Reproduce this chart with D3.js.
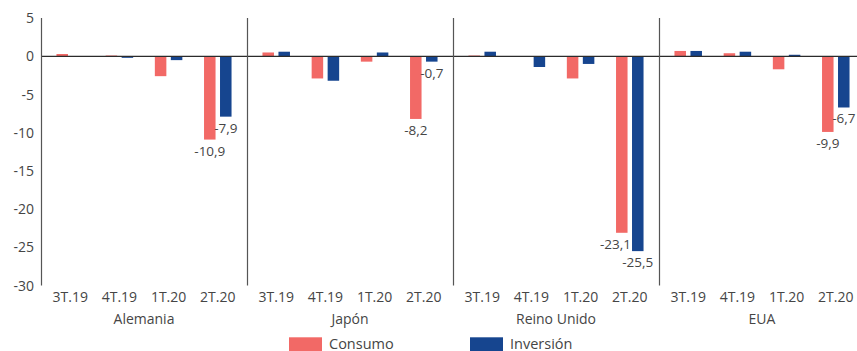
<!DOCTYPE html>
<html>
<head>
<meta charset="utf-8">
<script src="https://cdn.jsdelivr.net/npm/d3@7"></script>
<style>
  html, body { margin: 0; padding: 0; background: #fff; }
  svg { display: block; font-family: "Open Sans", "Noto Sans", sans-serif; }
</style>
</head>
<body>
<svg id="chart" width="857" height="351"></svg>
<script>
// Variación trimestral (%) del consumo y la inversión por país
const countries = ["Alemania", "Japón", "Reino Unido", "EUA"];
const quarters = ["3T.19", "4T.19", "1T.20", "2T.20"];
const seriesNames = ["Consumo", "Inversión"];
const consumo = [
  [0.3, 0.1, -2.6, -10.9],   // Alemania
  [0.5, -2.9, -0.7, -8.2],   // Japón
  [0.1, 0.0, -2.9, -23.1],   // Reino Unido
  [0.7, 0.4, -1.7, -9.9]     // EUA
];
const inversion = [
  [0.0, -0.2, -0.5, -7.9],
  [0.6, -3.2, 0.5, -0.7],
  [0.6, -1.4, -1.0, -25.5],
  [0.7, 0.6, 0.2, -6.7]
];
const labelledQuarter = "2T.20";
const yTicks = [5, 0, -5, -10, -15, -20, -25, -30];
const colors = { "Consumo": "#f26966", "Inversión": "#16458f" };

const svg = d3.select("#chart");
const textColor = "#454545";

const panelW = 206;
const x0 = d3.scaleBand().domain(countries).range([41, 41 + panelW * countries.length]).padding(0);
const x1 = d3.scaleBand().domain(quarters).range([0, panelW]).paddingInner(0).paddingOuter(0.094);
const x2 = d3.scaleBand().domain(seriesNames).range([0, x1.bandwidth()]).paddingInner(0.28).paddingOuter(0.678);
const y = d3.scaleLinear().domain([-30, 5]).range([285.5, 18.1]);

// y axis labels
svg.append("g").selectAll("text").data(yTicks).join("text")
  .attr("x", 34).attr("y", d => y(d)).attr("dy", "0.36em")
  .attr("text-anchor", "end").attr("font-size", 14).attr("fill", textColor)
  .text(d => String(d));

// flatten data
const rows = [];
countries.forEach((c, ci) => {
  quarters.forEach((q, qi) => {
    rows.push({ country: c, quarter: q, series: "Consumo", value: consumo[ci][qi] });
    rows.push({ country: c, quarter: q, series: "Inversión", value: inversion[ci][qi] });
  });
});
const barX = d => x0(d.country) + x1(d.quarter) + x2(d.series);

// bars
svg.append("g").selectAll("rect").data(rows).join("rect")
  .attr("x", barX)
  .attr("y", d => y(Math.max(0, d.value)))
  .attr("width", x2.bandwidth())
  .attr("height", d => Math.abs(y(d.value) - y(0)))
  .attr("fill", d => colors[d.series]);

// zero line
svg.append("line")
  .attr("x1", x0.range()[0]).attr("x2", x0.range()[1])
  .attr("y1", y(0)).attr("y2", y(0))
  .attr("stroke", "#2b2b2b").attr("stroke-width", 1.3);

// panel separators (first one doubles as y axis)
svg.append("g").selectAll("line").data(countries).join("line")
  .attr("x1", d => x0(d) + 0.5).attr("x2", d => x0(d) + 0.5)
  .attr("y1", y(5)).attr("y2", y(-30))
  .attr("stroke", "#555").attr("stroke-width", 1.2);

// quarter labels
const qLabels = [];
countries.forEach(c => quarters.forEach(q => qLabels.push({ c, q })));
svg.append("g").selectAll("text").data(qLabels).join("text")
  .attr("x", d => x0(d.c) + x1(d.q) + x1.bandwidth() / 2)
  .attr("y", 301.5)
  .attr("text-anchor", "middle").attr("font-size", 14).attr("fill", textColor)
  .text(d => d.q);

// country labels
svg.append("g").selectAll("text").data(countries).join("text")
  .attr("x", d => x0(d) + panelW / 2)
  .attr("y", 324)
  .attr("text-anchor", "middle").attr("font-size", 14).attr("fill", textColor)
  .text(d => d);

// value labels for the latest quarter (decimal comma, plain hyphen)
const fmt = v => d3.format(".1f")(v).replace("\u2212", "-").replace(".", ",");
const labelled = rows.filter(r => r.quarter === labelledQuarter);
const lbl = svg.append("g").selectAll("text").data(labelled).join("text")
  .attr("x", d => barX(d) + x2.bandwidth() / 2)
  .attr("y", d => y(d.value) + 16)
  .attr("text-anchor", "middle").attr("font-size", 13.5).attr("fill", textColor)
  .text(d => fmt(d.value));
// keep Consumo labels clear of the neighbouring Inversión bar
lbl.each(function (d) {
  if (d.series !== "Consumo") return;
  const partner = labelled.find(r => r.country === d.country && r.series === "Inversión");
  const w = this.getComputedTextLength();
  const cx = barX(d) + x2.bandwidth() / 2;
  const limit = barX(partner) - 1;
  const bottom = y(d.value) + 16;
  if (y(partner.value) > bottom - 12 && cx + w / 2 > limit) {
    d3.select(this).attr("x", limit - w / 2);
  }
});

// legend
const legend = svg.append("g").selectAll("g").data(seriesNames).join("g")
  .attr("transform", (d, i) => `translate(${289 + i * 181},337.3)`);
legend.append("rect").attr("width", 33).attr("height", 14).attr("fill", d => colors[d]);
legend.append("text").attr("x", 40).attr("y", 11.8)
  .attr("font-size", 14.5).attr("fill", textColor).text(d => d);
</script>
</body>
</html>
